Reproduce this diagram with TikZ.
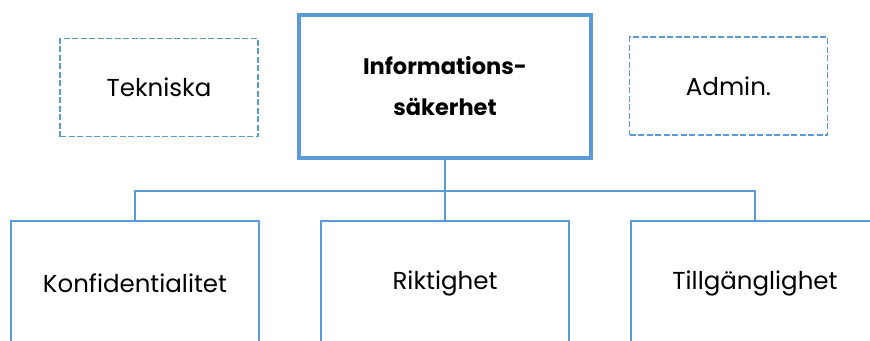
\documentclass[tikz,border=0pt]{standalone}
\usepackage{fontspec}
\setmainfont{Poppins}
\definecolor{accblue}{HTML}{5B9BD5}

\tikzset{
  topbox/.style={draw=accblue,line width=3.2pt,fill=white,minimum width=292pt,minimum height=143pt,align=center,font=\fontsize{22.5}{41}\selectfont\bfseries},
  sidebox/.style={draw=accblue,line width=1.8pt,dash pattern=on 6pt off 2.5pt,minimum width=198pt,minimum height=98pt,font=\fontsize{24.5}{30}\selectfont},
  leafbox/.style={draw=accblue,line width=2pt,fill=white,minimum width=248pt,minimum height=124pt,font=\fontsize{24.5}{30}\selectfont},
  link/.style={draw=accblue,line width=2pt}
}

\begin{document}
\begin{tikzpicture}[x=1pt,y=-1pt]
\useasboundingbox (0,0) rectangle (870,340);
\clip (0,0) rectangle (870,340);

  \node [topbox] at (445,86.5) (main) {Informations-\\säkerhet};
  \node [sidebox] at (159,87.5) (tekn) {Tekniska};
  \node [sidebox] at (728.5,86) (admin) {Admin.};

  \node [leafbox] at (135,283) (konf) {Konfidentialitet};
  \node [leafbox] at (445,283) (rikt) {Riktighet};
  \node [leafbox] at (755,283) (tillg) {Tillgänglighet};

  \coordinate (bus) at (445,190.5);
  \begin{scope}[every path/.style={link}]
    \path (main.south) -- (rikt.north);
    \path (konf.north) |- (bus) -| (tillg.north);
  \end{scope}
\end{tikzpicture}
\end{document}
